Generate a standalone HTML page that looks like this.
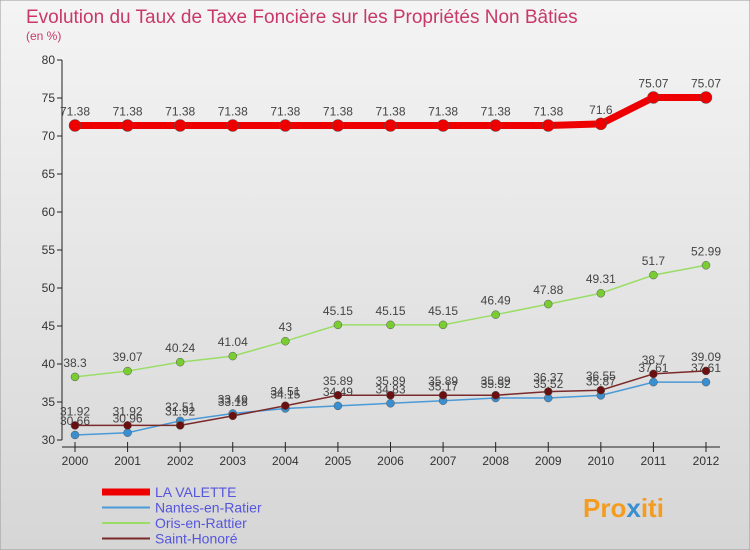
<!DOCTYPE html>
<html><head><meta charset="utf-8"><style>
body{margin:0;background:#fff}
svg{display:block;font-family:"Liberation Sans",sans-serif}
</style></head><body>
<svg id="c" width="750" height="550">
<defs><linearGradient id="bg" x1="0" y1="0" x2="0" y2="1"><stop offset="0" stop-color="#f4f4f4"/><stop offset="1" stop-color="#d6d6d6"/></linearGradient>
<linearGradient id="pb" x1="0" y1="0" x2="1" y2="1"><stop offset="0" stop-color="#f0f0f0"/><stop offset="1" stop-color="#d8d8d8"/></linearGradient></defs>
<rect x="0" y="0" width="750" height="550" fill="url(#bg)" stroke="#999"/>
<text x="26" y="23" font-size="19" fill="#c8386a">Evolution du Taux de Taxe Foncière sur les Propriétés Non Bâties</text>
<text x="26" y="40" font-size="12" fill="#c8386a">(en %)</text>
<g id="plot"></g>
<g id="legend" font-size="14"></g>
<text x="583" y="517" font-size="26" font-weight="bold" fill="#f39c1f">Pro<tspan fill="#3a8fd0">x</tspan>iti</text>
</svg>
<script>
const years=[2000,2001,2002,2003,2004,2005,2006,2007,2008,2009,2010,2011,2012];
const yTicks=[30,35,40,45,50,55,60,65,70,75,80];
const laValette=[71.38,71.38,71.38,71.38,71.38,71.38,71.38,71.38,71.38,71.38,71.6,75.07,75.07];
const nantes=[30.66,30.96,32.51,33.49,34.15,34.49,34.83,35.17,35.52,35.52,35.87,37.61,37.61];
const oris=[38.3,39.07,40.24,41.04,43,45.15,45.15,45.15,46.49,47.88,49.31,51.7,52.99];
const stHonore=[31.92,31.92,31.92,33.18,34.51,35.89,35.89,35.89,35.89,36.37,36.55,38.7,39.09];
const NS="http://www.w3.org/2000/svg";
const x=i=>75+i*(706-75)/(years.length-1);
const y=v=>440-(v-30)*7.6;
const plot=document.getElementById('plot');
function mk(t,a,p){const e=document.createElementNS(NS,t);for(const k in a)e.setAttribute(k,a[k]);(p||plot).appendChild(e);return e;}
let e=mk('line',{x1:62,y1:y(80),x2:62,y2:y(30),stroke:'#222'});


e=mk('line',{x1:62,y1:447,x2:720,y2:447,stroke:'#222'});


yTicks.forEach(v=>{
 const l=mk('line',{x1:57,y1:y(v),x2:62,y2:y(v),stroke:'#222'});
 
 
 const t=mk('text',{x:55,y:y(v)+4,'text-anchor':'end','font-size':12,fill:'#333'});t.textContent=v;
 
 
});
years.forEach((yr,i)=>{
 const l=mk('line',{x1:x(i),y1:442,x2:x(i),y2:452,stroke:'#222'});
 
 
 const t=mk('text',{x:x(i),y:465,'text-anchor':'middle','font-size':12,fill:'#333'});t.textContent=yr;
 
 
});
const series=[
 {name:'Nantes-en-Ratier',d:nantes,c:'#4a9ad8',w:1.5,r:4,mc:'#3a8fd0'},
 {name:'Saint-Honoré',d:stHonore,c:'#7a2a2a',w:1.5,r:4,mc:'#6a1010'},
 {name:'Oris-en-Rattier',d:oris,c:'#99dd66',w:1.5,r:4,mc:'#7acc33'},
 {name:'LA VALETTE',d:laValette,c:'#ee0000',w:7,r:6,mc:'#ee0000'}
];
series.forEach(s=>{
 const p=mk('polyline',{points:s.d.map((v,i)=>x(i)+','+y(v)).join(' '),fill:'none',stroke:s.c,'stroke-width':s.w});
 
 
 s.d.forEach((v,i)=>{
  const c=mk('circle',{cx:x(i),cy:y(v),r:s.r,fill:s.mc,stroke:'#555','stroke-width':0.5});
  
  
  const t=mk('text',{x:x(i),y:y(v)-10,'text-anchor':'middle','font-size':12,fill:'#444'});t.textContent=v;
  
  
 });
});
const lg=document.getElementById('legend');
const leg=[['LA VALETTE','#ee0000',7],['Nantes-en-Ratier','#4a9ad8',2],['Oris-en-Rattier','#99dd66',2],['Saint-Honoré','#7a2a2a',2]];
leg.forEach((l,i)=>{
 const yy=492+i*15.5;
 const ln=mk('line',{x1:102,y1:yy,x2:150,y2:yy,stroke:l[1],'stroke-width':l[2]},lg);
 
 
 const t=mk('text',{x:155,y:yy+5,fill:'#5555dd'},lg);t.textContent=l[0];
 
 
});
</script>
</body></html>
